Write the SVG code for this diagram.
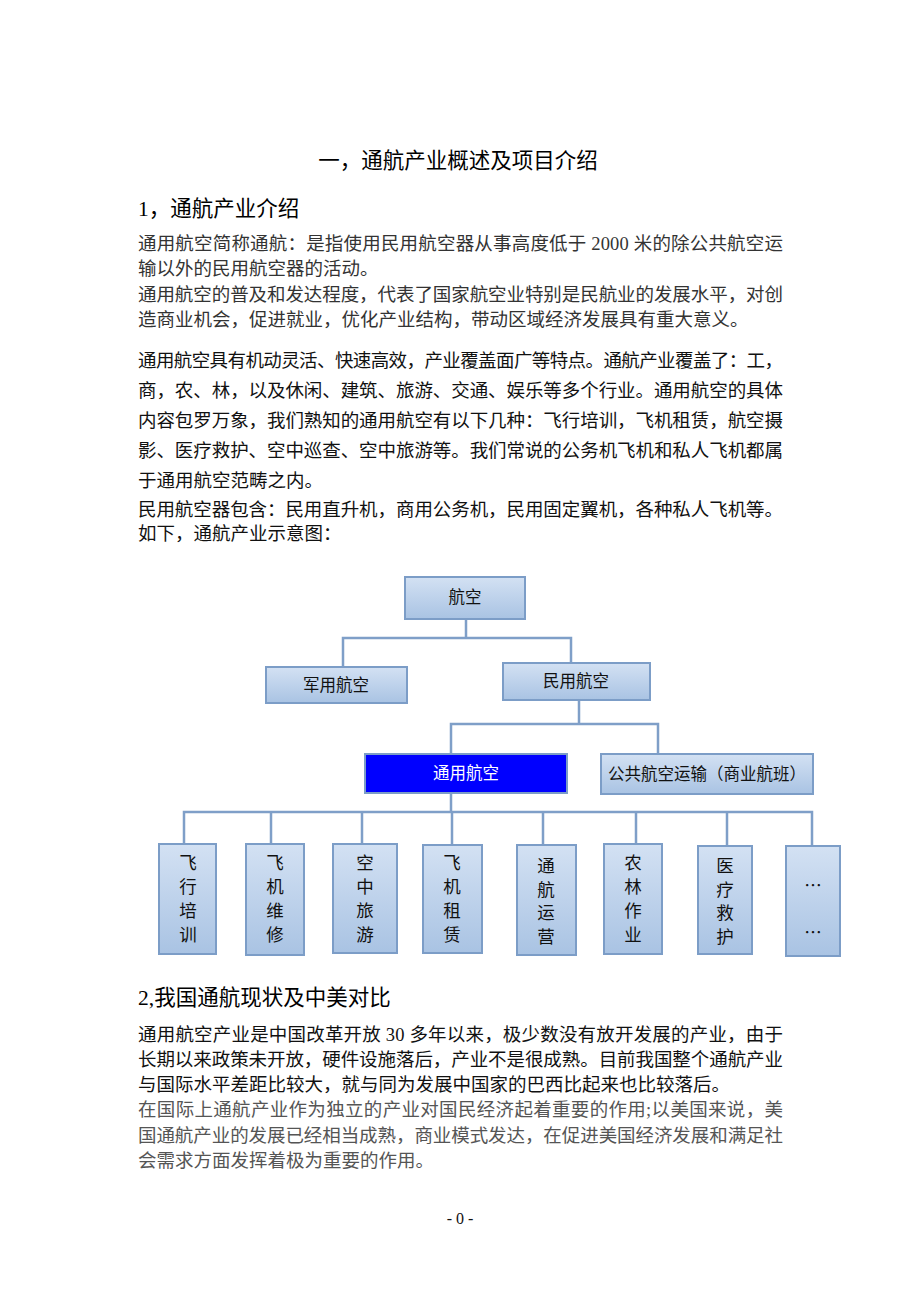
<svg xmlns="http://www.w3.org/2000/svg" width="920" height="1302" viewBox="0 0 920 1302">
<style>
.t{font-family:"Liberation Serif","Noto Sans CJK SC",serif;fill:#111}
.h{font-size:21.5px;fill:#000}
.b{font-size:18.5px}
.g1{fill:#333}
.g2{fill:#555}
.node rect{fill:url(#bg);stroke:#7c9dc7;stroke-width:2}
.node text{font-family:"Liberation Serif","Noto Sans CJK SC",serif;font-size:16.5px;fill:#111;text-anchor:middle}
.v text{font-size:17.5px}
.el{font-family:"Noto Sans CJK SC",sans-serif !important}
#n-tongyong rect{fill:#0000ff}
#n-tongyong text{fill:#fff}
.conn path{fill:none;stroke:#7f9fc8;stroke-width:2.5}
</style>
<defs>
<linearGradient id="bg" x1="0" y1="0" x2="0" y2="1">
<stop offset="0" stop-color="#d3e1f3"/>
<stop offset="1" stop-color="#a9c3e3"/>
</linearGradient>
</defs>
<rect width="920" height="1302" fill="#fff"/>
<text class="t h" x="458" y="168" text-anchor="middle">一，通航产业概述及项目介绍</text>
<text class="t h" x="138" y="216">1，通航产业介绍</text>
<g class="t b g1">
<text x="138" y="250" textLength="645" lengthAdjust="spacing">通用航空简称通航：是指使用民用航空器从事高度低于 2000 米的除公共航空运</text>
<text x="138" y="275">输以外的民用航空器的活动。</text>
<text x="138" y="301" textLength="645" lengthAdjust="spacing">通用航空的普及和发达程度，代表了国家航空业特别是民航业的发展水平，对创</text>
<text x="138" y="326">造商业机会，促进就业，优化产业结构，带动区域经济发展具有重大意义。</text>
</g>
<g class="t b">
<text x="138" y="367" textLength="645" lengthAdjust="spacing">通用航空具有机动灵活、快速高效，产业覆盖面广等特点。通航产业覆盖了：工，</text>
<text x="138" y="397" textLength="645" lengthAdjust="spacing">商，农、林，以及休闲、建筑、旅游、交通、娱乐等多个行业。通用航空的具体</text>
<text x="138" y="427" textLength="645" lengthAdjust="spacing">内容包罗万象，我们熟知的通用航空有以下几种：飞行培训，飞机租赁，航空摄</text>
<text x="138" y="457" textLength="645" lengthAdjust="spacing">影、医疗救护、空中巡查、空中旅游等。我们常说的公务机飞机和私人飞机都属</text>
<text x="138" y="487">于通用航空范畴之内。</text>
<text x="138" y="516" textLength="645" lengthAdjust="spacing">民用航空器包含：民用直升机，商用公务机，民用固定翼机，各种私人飞机等。</text>
<text x="138" y="540">如下，通航产业示意图：</text>
</g>
<g class="conn">
<path d="M466 619V638M343 667V638H571V663"/>
<path d="M579 700V724M451 754V724H658V754"/>
<path d="M451 793V812M184 844V812H812V846M271 844V812M362 844V812M452 845V812M543 845V812M636 844V812M727 846V812"/>
</g>
<g class="node" id="n-hangkong"><rect x="405" y="577" width="120" height="42"/><text x="465" y="603">航空</text></g>
<g class="node" id="n-junyong"><rect x="266" y="667" width="141" height="36"/><text x="336" y="691">军用航空</text></g>
<g class="node" id="n-minyong"><rect x="503" y="663" width="147" height="37"/><text x="576" y="687">民用航空</text></g>
<g class="node" id="n-tongyong"><rect x="365" y="754" width="202" height="39"/><text x="466" y="779">通用航空</text></g>
<g class="node" id="n-gonggong"><rect x="601" y="754" width="212" height="40"/><text x="707" y="780">公共航空运输（商业航班）</text></g>
<g class="node v" id="n-1"><rect x="159" y="844" width="57" height="110"/><text x="188" y="869">飞</text><text x="188" y="893">行</text><text x="188" y="917">培</text><text x="188" y="941">训</text></g>
<g class="node v" id="n-2"><rect x="246" y="844" width="58" height="111"/><text x="275" y="869">飞</text><text x="275" y="893">机</text><text x="275" y="917">维</text><text x="275" y="941">修</text></g>
<g class="node v" id="n-3"><rect x="333" y="844" width="64" height="109"/><text x="365" y="869">空</text><text x="365" y="893">中</text><text x="365" y="917">旅</text><text x="365" y="941">游</text></g>
<g class="node v" id="n-4"><rect x="423" y="845" width="59" height="108"/><text x="452" y="869">飞</text><text x="452" y="893">机</text><text x="452" y="917">租</text><text x="452" y="941">赁</text></g>
<g class="node v" id="n-5"><rect x="517" y="845" width="59" height="110"/><text x="546" y="872">通</text><text x="546" y="896">航</text><text x="546" y="919">运</text><text x="546" y="943">营</text></g>
<g class="node v" id="n-6"><rect x="604" y="844" width="58" height="110"/><text x="633" y="869">农</text><text x="633" y="893">林</text><text x="633" y="917">作</text><text x="633" y="941">业</text></g>
<g class="node v" id="n-7"><rect x="698" y="846" width="54" height="108"/><text x="725" y="872">医</text><text x="725" y="896">疗</text><text x="725" y="919">救</text><text x="725" y="943">护</text></g>
<g class="node v" id="n-8"><rect x="786" y="846" width="54" height="110"/><text class="el" x="813" y="892">…</text><text class="el" x="813" y="939">…</text></g>
<text class="t h" x="138" y="1005">2,我国通航现状及中美对比</text>
<g class="t b">
<text x="138" y="1041" textLength="645" lengthAdjust="spacing">通用航空产业是中国改革开放 30 多年以来，极少数没有放开发展的产业，由于</text>
<text x="138" y="1066" textLength="645" lengthAdjust="spacing">长期以来政策未开放，硬件设施落后，产业不是很成熟。目前我国整个通航产业</text>
<text x="138" y="1091">与国际水平差距比较大，就与同为发展中国家的巴西比起来也比较落后。</text>
</g>
<g class="t b g2">
<text x="138" y="1116" textLength="645" lengthAdjust="spacing">在国际上通航产业作为独立的产业对国民经济起着重要的作用;以美国来说，美</text>
<text x="138" y="1142" textLength="645" lengthAdjust="spacing">国通航产业的发展已经相当成熟，商业模式发达，在促进美国经济发展和满足社</text>
<text x="138" y="1167">会需求方面发挥着极为重要的作用。</text>
</g>
<text class="t" x="460" y="1224" font-size="16" text-anchor="middle">- 0 -</text>
</svg>
